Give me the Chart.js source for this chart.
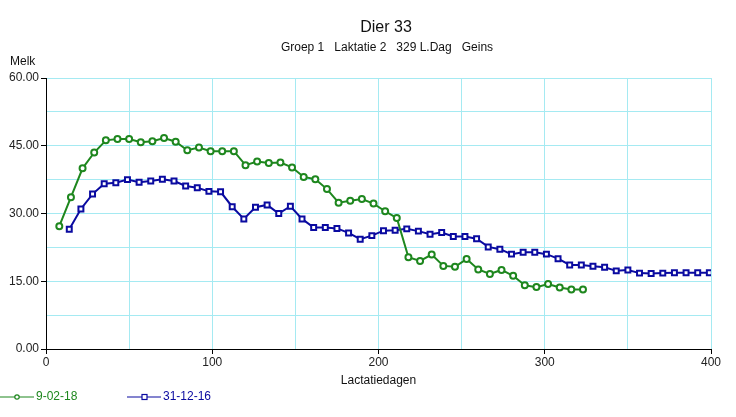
<!DOCTYPE html>
<html>
<head>
<meta charset="utf-8">
<script src="https://cdn.jsdelivr.net/npm/chart.js@4"></script>
<style>
  body { margin: 0; background: #fff; }
</style>
</head>
<body>
<canvas id="out" width="736" height="417"></canvas>
<script>
// lactation days of each test, and milk per test (kg)
const daysNew = [8, 15, 22, 29, 36, 43, 50, 57, 64, 71, 78, 85, 92, 99, 106, 113, 120, 127, 134, 141,
  148, 155, 162, 169, 176, 183, 190, 197, 204, 211, 218, 225, 232, 239, 246, 253, 260, 267, 274, 281,
  288, 295, 302, 309, 316, 323];
const milkNew = [27.2, 33.6, 40.0, 43.5, 46.2, 46.5, 46.5, 45.8, 46.0, 46.7, 45.9, 44.0, 44.6, 43.8, 43.8, 43.8, 40.7, 41.5, 41.2, 41.3,
  40.2, 38.1, 37.6, 35.4, 32.4, 32.8, 33.2, 32.2, 30.5, 29.0, 20.3, 19.5, 20.9, 18.4, 18.2, 19.9, 17.6, 16.6, 17.5, 16.2,
  14.1, 13.7, 14.4, 13.6, 13.2, 13.2];

const daysOld = [14, 21, 28, 35, 42, 49, 56, 63, 70, 77, 84, 91, 98, 105, 112, 119, 126, 133, 140, 147,
  154, 161, 168, 175, 182, 189, 196, 203, 210, 217, 224, 231, 238, 245, 252, 259, 266, 273, 280, 287,
  294, 301, 308, 315, 322, 329, 336, 343, 350, 357, 364, 371, 378, 385, 392, 399];
const milkOld = [26.5, 31.0, 34.3, 36.6, 36.8, 37.5, 36.9, 37.2, 37.6, 37.2, 36.1, 35.7, 34.9, 34.8, 31.5, 28.8, 31.4, 31.9, 30.0, 31.6,
  28.8, 26.9, 26.9, 26.7, 25.7, 24.3, 25.1, 26.2, 26.3, 26.6, 26.1, 25.4, 25.8, 24.9, 24.9, 24.4, 22.6, 22.1, 21.0, 21.4,
  21.4, 21.0, 20.0, 18.6, 18.6, 18.3, 18.1, 17.3, 17.5, 16.8, 16.7, 16.8, 16.9, 16.9, 16.9, 16.9];

const labelNew = "9-02-18";
const labelOld = "31-12-16";
const title = "Dier 33";
const subtitle = "Groep 1   Laktatie 2   329 L.Dag   Geins";

const green = "rgb(30,135,30)";
const blue = "rgb(10,10,160)";
const gridColor = "rgb(165,234,242)";
const font = "'Liberation Sans', Arial, sans-serif";

Chart.defaults.font.family = font;
Chart.defaults.font.size = 12;
Chart.defaults.color = "#222";

function toPoints(xs, ys) {
  return xs.map((x, i) => ({x: x, y: ys[i]}));
}

// title, y-axis caption and legend, drawn straight on the canvas
const decorations = {
  id: "decorations",
  afterDraw(chart) {
    const ctx = chart.ctx;
    ctx.save();
    ctx.textBaseline = "middle";
    ctx.fillStyle = "#111";
    ctx.textAlign = "center";
    ctx.font = "16px " + font;
    ctx.fillText(title, 386, 28);
    ctx.font = "12px " + font;
    ctx.fillText(subtitle, 387, 48);
    ctx.textAlign = "left";
    ctx.fillText("Melk", 10, 62);

    const items = [
      {x: 0, color: green, text: labelNew, marker: "circle"},
      {x: 127, color: blue, text: labelOld, marker: "square"}
    ];
    items.forEach(it => {
      const y = 397;
      ctx.strokeStyle = it.color;
      ctx.lineWidth = 1.2;
      ctx.beginPath();
      ctx.moveTo(it.x, y);
      ctx.lineTo(it.x + 34, y);
      ctx.stroke();
      ctx.fillStyle = "#fff";
      if (it.marker === "circle") {
        ctx.beginPath();
        ctx.arc(it.x + 17, y, 2.2, 0, Math.PI * 2);
        ctx.fill();
        ctx.stroke();
      } else {
        ctx.fillRect(it.x + 15, y - 2.5, 5, 5);
        ctx.strokeRect(it.x + 15, y - 2.5, 5, 5);
      }
      ctx.fillStyle = it.color;
      ctx.fillText(it.text, it.x + 36, y);
    });
    ctx.restore();
  }
};

const chartConfig = {
  type: "line",
  data: {
    datasets: [
      {
        label: labelNew,
        data: toPoints(daysNew, milkNew),
        borderColor: green,
        backgroundColor: "#fff",
        borderWidth: 2,
        pointStyle: "circle",
        pointRadius: 3,
        pointBorderWidth: 2,
        fill: false
      },
      {
        label: labelOld,
        data: toPoints(daysOld, milkOld),
        borderColor: blue,
        backgroundColor: "#fff",
        borderWidth: 2,
        pointStyle: "rect",
        pointRadius: 3.5,
        pointBorderWidth: 2,
        fill: false
      }
    ]
  },
  options: {
    responsive: false,
    animation: false,
    events: [],
    layout: {padding: {top: 78, right: 25, bottom: 28, left: 0}},
    plugins: {
      legend: {display: false},
      title: {display: false},
      tooltip: {enabled: false}
    },
    scales: {
      x: {
        type: "linear",
        min: 0,
        max: 400,
        afterFit: s => { s.height = 40; },
        border: {color: "#000", width: 1},
        grid: {
          color: gridColor,
          tickLength: 5,
          tickColor: c => (c.tick && c.tick.value % 100 === 0) ? "#000" : "rgba(0,0,0,0)"
        },
        ticks: {
          stepSize: 50,
          padding: 1,
          maxRotation: 0,
          autoSkip: false,
          callback: v => v % 100 === 0 ? String(v) : ""
        },
        title: {
          display: true,
          text: "Lactatiedagen",
          color: "#111",
          padding: {top: 0, bottom: 1}
        }
      },
      y: {
        min: 0,
        max: 60,
        afterFit: s => { s.width = 46; },
        border: {color: "#000", width: 1},
        grid: {
          color: gridColor,
          tickLength: 5,
          tickColor: c => (c.tick && c.tick.value % 15 === 0) ? "#000" : "rgba(0,0,0,0)"
        },
        ticks: {
          stepSize: 7.5,
          padding: 2,
          autoSkip: false,
          callback: v => v % 15 === 0 ? v.toFixed(2) : ""
        }
      }
    }
  },
  plugins: [decorations]
};

new Chart(document.getElementById("out").getContext("2d"), chartConfig);
</script>
</body>
</html>
